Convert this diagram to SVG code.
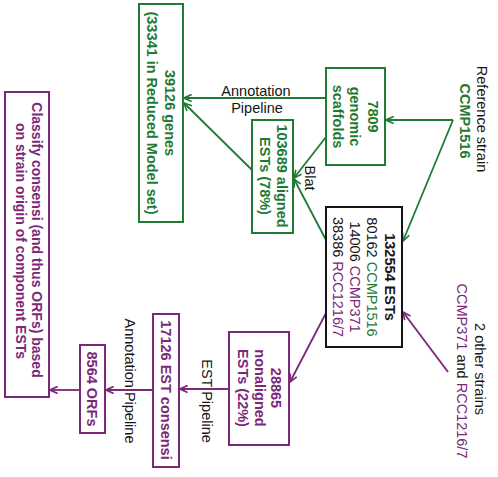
<svg xmlns="http://www.w3.org/2000/svg" width="498" height="477" viewBox="0 0 498 477">
<defs>
<style>
text{font-family:"Liberation Sans",Arial,sans-serif;font-size:14.5px;fill:#151515}
.b{font-weight:bold}
.g{fill:#1f7a32}
.p{fill:#7a2877}
.k{fill:#151515}
.bg{fill:#fff;stroke:#1f7a32;stroke-width:2}
.bp{fill:#fff;stroke:#7a2877;stroke-width:2}
.bk{fill:#fff;stroke:#151515;stroke-width:2}
.cg{stroke:#1f7a32;stroke-width:1.8;fill:none;marker-end:url(#ag)}
.cp{stroke:#7a2877;stroke-width:1.8;fill:none;marker-end:url(#ap)}
</style>
<marker id="ag" viewBox="0 0 10 10" refX="9.5" refY="5" markerWidth="9" markerHeight="9" markerUnits="userSpaceOnUse" orient="auto">
<path d="M1,1 L9.5,5 L1,9" fill="none" stroke="#1f7a32" stroke-width="1.8"/>
</marker>
<marker id="ap" viewBox="0 0 10 10" refX="9.5" refY="5" markerWidth="9" markerHeight="9" markerUnits="userSpaceOnUse" orient="auto">
<path d="M1,1 L9.5,5 L1,9" fill="none" stroke="#7a2877" stroke-width="1.8"/>
</marker>
</defs>
<rect width="498" height="477" fill="#fff"/>

<g id="connectors">
<line class="cg" x1="453" y1="120" x2="386" y2="120"/>
<line class="cg" x1="453" y1="120" x2="403" y2="241"/>
<line class="cg" x1="326" y1="98" x2="184" y2="98"/>
<line class="cg" x1="326" y1="137" x2="294" y2="178"/>
<line class="cg" x1="326" y1="240" x2="294" y2="179"/>
<line class="cg" x1="252" y1="170" x2="184" y2="103"/>
<line class="cp" x1="448" y1="372" x2="403" y2="312"/>
<line class="cp" x1="326" y1="313" x2="290" y2="382"/>
<line class="cp" x1="229" y1="389" x2="180" y2="389"/>
<line class="cp" x1="153" y1="390" x2="106" y2="390"/>
<line class="cp" x1="80" y1="390" x2="50" y2="390"/>
<text x="256" y="96" text-anchor="middle">Annotation</text>
<text x="257" y="113" text-anchor="middle">Pipeline</text>
<text transform="translate(310,178) rotate(90)" text-anchor="middle" dy="0.35em">Blat</text>
<text transform="translate(207,401) rotate(90)" text-anchor="middle" dy="0.35em">EST Pipeline</text>
<text transform="translate(130,381) rotate(90)" text-anchor="middle" dy="0.35em">Annotation Pipeline</text>
</g>

<g id="ref-strain">
<text transform="translate(482,119) rotate(90)" text-anchor="middle" dy="0.35em">Reference strain</text>
<text class="b g" transform="translate(465,121) rotate(90)" text-anchor="middle" dy="0.35em">CCMP1516</text>
</g>

<g id="other-strains">
<text transform="translate(480,369) rotate(90)" text-anchor="middle" dy="0.35em">2 other strains</text>
<text transform="translate(462,371) rotate(90)" text-anchor="middle" dy="0.35em"><tspan class="p">CCMP371</tspan> and <tspan class="p">RCC1216/7</tspan></text>
</g>

<g id="scaffolds">
<rect class="bg" x="326" y="68" width="59" height="97"/>
<text class="b g" transform="translate(373,116.5) rotate(90)" text-anchor="middle" dy="0.35em">7809</text>
<text class="b g" transform="translate(355,116.5) rotate(90)" text-anchor="middle" dy="0.35em">genomic</text>
<text class="b g" transform="translate(338,116.5) rotate(90)" text-anchor="middle" dy="0.35em">scaffolds</text>
</g>

<g id="genes">
<rect class="bg" x="139" y="4" width="44" height="218"/>
<text class="b g" transform="translate(170,113) rotate(90)" text-anchor="middle" dy="0.35em">39126 genes</text>
<text class="b g" transform="translate(152,113) rotate(90)" text-anchor="middle" dy="0.35em">(33341 in Reduced Model set)</text>
</g>

<g id="aligned">
<rect class="bg" x="252" y="120" width="41" height="113"/>
<text class="b g" transform="translate(282,176) rotate(90)" text-anchor="middle" dy="0.35em">103689 aligned</text>
<text class="b g" transform="translate(265,176) rotate(90)" text-anchor="middle" dy="0.35em">ESTs (78%)</text>
</g>

<g id="ests">
<rect class="bk" x="326" y="207" width="76" height="140"/>
<text class="b" transform="translate(390,277) rotate(90)" text-anchor="middle" dy="0.35em">132554 ESTs</text>
<text transform="translate(372,277) rotate(90)" text-anchor="middle" dy="0.35em">80162 <tspan class="g">CCMP1516</tspan></text>
<text transform="translate(355,277) rotate(90)" text-anchor="middle" dy="0.35em">14006 <tspan class="p">CCMP371</tspan></text>
<text transform="translate(338,277) rotate(90)" text-anchor="middle" dy="0.35em">38386 <tspan class="p">RCC1216/7</tspan></text>
</g>

<g id="nonaligned">
<rect class="bp" x="229" y="332" width="60" height="113"/>
<text class="b p" transform="translate(276,388) rotate(90)" text-anchor="middle" dy="0.35em">28865</text>
<text class="b p" transform="translate(260,388) rotate(90)" text-anchor="middle" dy="0.35em">nonaligned</text>
<text class="b p" transform="translate(243,388) rotate(90)" text-anchor="middle" dy="0.35em">ESTs (22%)</text>
</g>

<g id="consensi">
<rect class="bp" x="153" y="314" width="26" height="153"/>
<text class="b p" transform="translate(166,390) rotate(90)" text-anchor="middle" dy="0.35em">17126 EST consensi</text>
</g>

<g id="orfs">
<rect class="bp" x="80" y="345" width="25" height="88"/>
<text class="b p" transform="translate(92.5,389) rotate(90)" text-anchor="middle" dy="0.35em">8564 ORFs</text>
</g>

<g id="classify">
<rect class="bp" x="5" y="92" width="44" height="305"/>
<text class="b p" style="font-size:14px" transform="translate(37,240) rotate(90)" text-anchor="middle" dy="0.35em">Classify consensi (and thus ORFs) based</text>
<text class="b p" style="font-size:14px" transform="translate(21,241) rotate(90)" text-anchor="middle" dy="0.35em">on strain origin of component ESTs</text>
</g>
</svg>
